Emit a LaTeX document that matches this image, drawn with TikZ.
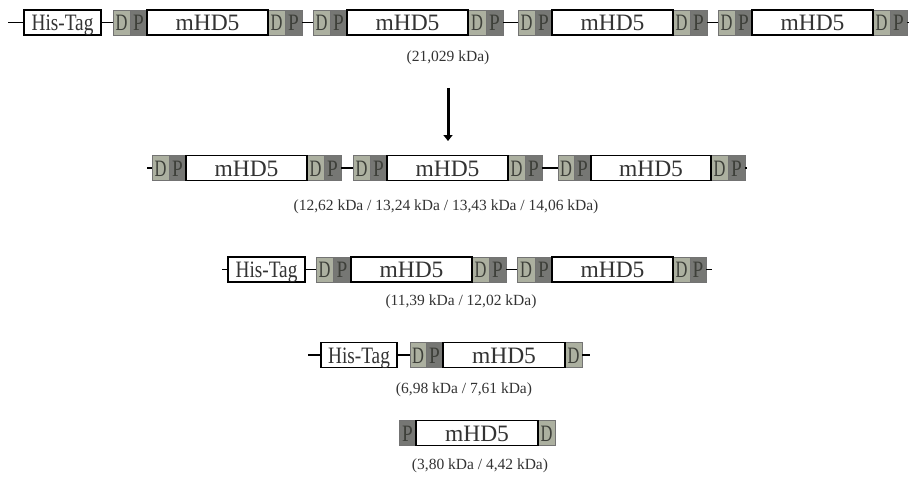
\documentclass[tikz,border=0pt]{standalone}
\usepackage{fontspec}
\setmainfont{Liberation Serif}
\usetikzlibrary{arrows.meta}
\definecolor{dfill}{RGB}{172,176,160}
\definecolor{pfill}{RGB}{118,119,116}
\definecolor{lettercol}{RGB}{62,64,58}
\definecolor{capcol}{RGB}{50,50,50}
\newcommand\bigtxt{\fontsize{23.5}{25}\selectfont}
\newcommand\captxt{\fontsize{15.5}{17}\selectfont}
% narrow letters that do not widen their boxes
\newcommand\Dl{\makebox[0pt]{\scalebox{0.7}[1]{D}}}
\newcommand\Pl{\makebox[0pt]{\scalebox{0.82}[1]{P}}}
\newcommand\tagtxt{\scalebox{0.82}[1]{His-Tag}}
% one block: style, name, left x, right x, centre y, text
\newcommand\blk[6]{\node[#1, minimum width={#4-#3}] (#2) at ({(#3+#4)/2},#5) {#6};}
\tikzset{
  seg/.style={inner sep=0pt, minimum height=25pt, text height=20pt, text depth=4pt, anchor=center},
  dbox/.style={seg, draw=black!55, line width=0.5pt, fill=dfill, text=lettercol, font=\bigtxt},
  pbox/.style={dbox, fill=pfill},
  mbox/.style={seg, draw=black, line width=1.6pt, fill=white, text=black!80, font=\bigtxt},
  hbox/.style={seg, draw=black, line width=1.3pt, fill=white, text=black!80, font=\bigtxt},
  link/.style={draw=black, line width=1.3pt},
  caption/.style={text=capcol, font=\captxt, inner sep=0pt},
}
\begin{document}
\begin{tikzpicture}[x=1pt,y=-1pt]
\useasboundingbox (0,0) rectangle (909,476);

% ---- full construct (21,029 kDa)
\coordinate (r1s) at (8,22.5);
\coordinate (r1e) at (909,22.5);
\blk{hbox}{r1h}{24}{101}{22.5}{\tagtxt}
\blk{dbox}{r1ad}{113}{130}{22.5}{\Dl}
\blk{pbox}{r1ap}{130}{147}{22.5}{\Pl}
\blk{dbox}{r1ad2}{268}{285}{22.5}{\Dl}
\blk{pbox}{r1ap2}{285}{302}{22.5}{\Pl}
\blk{mbox}{r1am}{147}{268}{22.5}{mHD5}
\blk{dbox}{r1bd}{313}{330}{22.5}{\Dl}
\blk{pbox}{r1bp}{330}{347}{22.5}{\Pl}
\blk{dbox}{r1bd2}{468}{486}{22.5}{\Dl}
\blk{pbox}{r1bp2}{486}{503}{22.5}{\Pl}
\blk{mbox}{r1bm}{347}{468}{22.5}{mHD5}
\blk{dbox}{r1cd}{518}{535}{22.5}{\Dl}
\blk{pbox}{r1cp}{535}{552}{22.5}{\Pl}
\blk{dbox}{r1cd2}{673}{690}{22.5}{\Dl}
\blk{pbox}{r1cp2}{690}{707}{22.5}{\Pl}
\blk{mbox}{r1cm}{552}{673}{22.5}{mHD5}
\blk{dbox}{r1dd}{718}{735}{22.5}{\Dl}
\blk{pbox}{r1dp}{735}{752}{22.5}{\Pl}
\blk{dbox}{r1dd2}{873}{890}{22.5}{\Dl}
\blk{pbox}{r1dp2}{890}{907}{22.5}{\Pl}
\blk{mbox}{r1dm}{752}{873}{22.5}{mHD5}
\path[link] (r1s) -- (r1h.west) (r1h.east) -- (r1ad.west)
  (r1ap2.east) -- (r1bd.west) (r1bp2.east) -- (r1cd.west)
  (r1cp2.east) -- (r1dd.west) (r1dp2.east) -- (r1e);
\node[caption] (cap1) at (448,58) {(21,029 kDa)};

% ---- cleavage arrow
\coordinate (arrtop) at (448,88);
\coordinate (arrbot) at (448,141);
\draw[line width=3pt, -{Triangle[width=9pt,length=6pt]}] (arrtop) -- (arrbot);

% ---- three-unit fragment
\coordinate (r2s) at (147,168);
\coordinate (r2e) at (747,168);
\blk{dbox}{r2ad}{152}{169}{168}{\Dl}
\blk{pbox}{r2ap}{169}{186}{168}{\Pl}
\blk{dbox}{r2ad2}{307}{324}{168}{\Dl}
\blk{pbox}{r2ap2}{324}{341}{168}{\Pl}
\blk{mbox}{r2am}{186}{307}{168}{mHD5}
\blk{dbox}{r2bd}{353}{370}{168}{\Dl}
\blk{pbox}{r2bp}{370}{387}{168}{\Pl}
\blk{dbox}{r2bd2}{508}{525}{168}{\Dl}
\blk{pbox}{r2bp2}{525}{542}{168}{\Pl}
\blk{mbox}{r2bm}{387}{508}{168}{mHD5}
\blk{dbox}{r2cd}{558}{574}{168}{\Dl}
\blk{pbox}{r2cp}{574}{591}{168}{\Pl}
\blk{dbox}{r2cd2}{711}{728}{168}{\Dl}
\blk{pbox}{r2cp2}{728}{745}{168}{\Pl}
\blk{mbox}{r2cm}{591}{711}{168}{mHD5}
\path[link] (r2s) -- (r2ad.west) (r2ap2.east) -- (r2bd.west)
  (r2bp2.east) -- (r2cd.west) (r2cp2.east) -- (r2e);
\node[caption] (cap2) at (446,207) {(12,62 kDa / 13,24 kDa / 13,43 kDa / 14,06 kDa)};

% ---- His-Tag with two units
\coordinate (r3s) at (222,269.5);
\coordinate (r3e) at (712,269.5);
\blk{hbox}{r3h}{228}{305}{269.5}{\tagtxt}
\blk{dbox}{r3ad}{316}{333}{269.5}{\Dl}
\blk{pbox}{r3ap}{333}{351}{269.5}{\Pl}
\blk{dbox}{r3ad2}{472}{489}{269.5}{\Dl}
\blk{pbox}{r3ap2}{489}{506}{269.5}{\Pl}
\blk{mbox}{r3am}{351}{472}{269.5}{mHD5}
\blk{dbox}{r3bd}{517}{535}{269.5}{\Dl}
\blk{pbox}{r3bp}{535}{552}{269.5}{\Pl}
\blk{dbox}{r3bd2}{673}{690}{269.5}{\Dl}
\blk{pbox}{r3bp2}{690}{706}{269.5}{\Pl}
\blk{mbox}{r3bm}{552}{673}{269.5}{mHD5}
\path[link] (r3s) -- (r3h.west) (r3h.east) -- (r3ad.west)
  (r3ap2.east) -- (r3bd.west) (r3bp2.east) -- (r3e);
\node[caption] (cap3) at (461,302) {(11,39 kDa / 12,02 kDa)};

% ---- His-Tag with one unit
\coordinate (r4s) at (308,355);
\coordinate (r4e) at (590,355);
\blk{hbox}{r4h}{321}{397}{355}{\tagtxt}
\blk{dbox}{r4ad}{410}{426}{355}{\Dl}
\blk{pbox}{r4ap}{426}{443}{355}{\Pl}
\blk{dbox}{r4ad2}{565}{582}{355}{\Dl}
\blk{mbox}{r4am}{443}{565}{355}{mHD5}
\path[link] (r4s) -- (r4h.west) (r4h.east) -- (r4ad.west) (r4ad2.east) -- (r4e);
\node[caption] (cap4) at (464,390) {(6,98 kDa / 7,61 kDa)};

% ---- single peptide
\blk{pbox}{r5p}{399}{416}{433}{\Pl}
\blk{dbox}{r5d}{538}{555}{433}{\Dl}
\blk{mbox}{r5m}{416}{538}{433}{mHD5}
\node[caption] (cap5) at (480,466) {(3,80 kDa / 4,42 kDa)};
\end{tikzpicture}
\end{document}
